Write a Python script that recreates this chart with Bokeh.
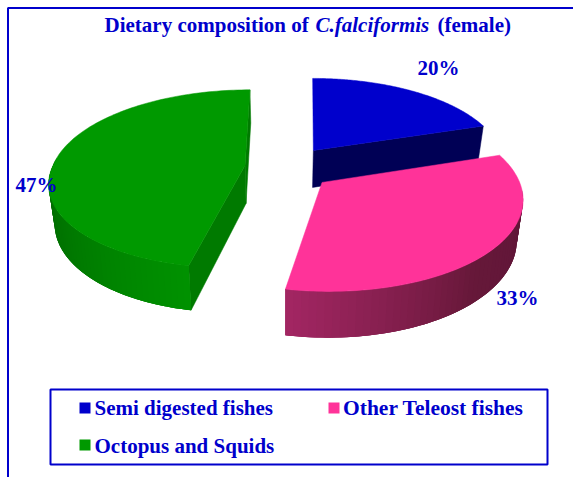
import numpy as np
from bokeh.plotting import figure
from bokeh.models import Range1d
from bokeh.core.properties import value
from bokeh.embed import file_html
from bokeh.resources import INLINE

# ---- data ----
categories = ["Semi digested fishes", "Other Teleost fishes", "Octopus and Squids"]
shares = [20, 33, 47]
labels = ["20%", "33%", "47%"]
colors = ["#0000cc", "#ff3399", "#009900"]

# ---- layout ----
W, H = 573, 477
BLUE = "#0000cc"
FONT = value("Liberation Serif")
X0, Y0, A, B, K, D, SHRINK = 282, 165, 192, 87, 0.15, 38, 0.974
centers = [(0.165, 0.178), (0.2, -0.189), (-0.195, 0.0)]
skew_far = [0.02, 0.0, 0.0]
skew_near = [0.0, 0.0, 0.035]
radial_wall = ["#000055", "#5e1538", "#007a00"]
wall_stops = [
    (("#000055", "#000055"),),
    ((0.0, "#5e1538"), (0.45, "#661839"), (1.0, "#a32663")),
    ((0.0, "#006200"), (0.5, "#007800"), (1.0, "#009200")),
]
TEXT_DY = -8

p = figure(width=W, height=H, output_backend="svg", toolbar_location=None,
           x_range=Range1d(0, W), y_range=Range1d(H, 0),
           min_border=0, outline_line_color=None, background_fill_color="white")
p.axis.visible = False
p.grid.visible = False


def proj(i, th, r=1.0, low=False):
    c = centers[i]
    cs = np.cos(th)
    u = c[0] + r * (np.sin(th) + skew_far[i] * np.maximum(cs, 0) + skew_near[i] * np.minimum(cs, 0))
    v = c[1] + r * cs
    f = 1 / (1 + K * v)
    sx = A * u * f
    sy = -B * v * f
    if low:
        return X0 + sx * SHRINK, Y0 + sy + D * f
    return X0 + sx, Y0 + sy


def mix(c1, c2, t):
    a = [int(c1[i:i + 2], 16) for i in (1, 3, 5)]
    b = [int(c2[i:i + 2], 16) for i in (1, 3, 5)]
    return "#%02x%02x%02x" % tuple(int(round(x + (y - x) * t)) for x, y in zip(a, b))


def shade(stops, t):
    for (t0, c0), (t1, c1) in zip(stops, stops[1:]):
        if t <= t1:
            return mix(c0, c1, (t - t0) / (t1 - t0))
    return stops[-1][1]


bounds = np.radians(np.cumsum([0] + shares) * 3.6)
order = [2, 0, 1]  # painter's order: green, blue, pink in front

for i in order:
    t0, t1 = bounds[i], bounds[i + 1]
    # radial walls
    for edge in (t0, t1):
        if (i == 2) or (i == 0 and edge == t1):
            ax0, ay0 = proj(i, 0, 0)
            ex0, ey0 = proj(i, edge)
            ax1, ay1 = proj(i, 0, 0, True)
            ex1, ey1 = proj(i, edge, 1, True)
            p.patch([ax0, ex0, ex1, ax1], [ay0, ey0, ey1, ay1],
                    fill_color=radial_wall[i], line_color=radial_wall[i], line_width=0.5)
    # outer curved wall, in overlapping strips
    if i != 0:
        if i == 1:
            vis0, vis1 = np.radians(95), t1
            edges = np.linspace(vis0, vis1, 50)
            pos = lambda th: (th - vis0) / (vis1 - vis0)
            stops = wall_stops[1]
        else:
            vis0, vis1 = t0, np.radians(275)
            edges = np.linspace(vis1, vis0, 50)
            pos = lambda th: 1 - (th - vis0) / (vis1 - vis0)
            stops = wall_stops[2]
        xs, ys, cols = [], [], []
        for j in range(len(edges) - 1):
            a, b = edges[j], edges[min(j + 3, len(edges) - 1)]
            arc = np.linspace(a, b, 5)
            x0, y0 = proj(i, arc)
            x1, y1 = proj(i, arc, 1, True)
            xs.append(np.r_[x0, x1[::-1]].tolist())
            ys.append(np.r_[y0, y1[::-1]].tolist())
            cols.append(shade(stops, pos((edges[j] + edges[j + 1]) / 2)))
        p.patches(xs, ys, fill_color=cols, line_color=None)
    # top face
    th = np.linspace(t0, t1, 120)
    px, py = proj(i, th)
    ax, ay = proj(i, 0, 0)
    p.patch(np.r_[ax, px].tolist(), np.r_[ay, py].tolist(),
            fill_color=colors[i], line_color=colors[i], line_width=0.5)

# outer frame (only top and left are visible in the reference)
p.line([7.5, 7.5, W], [H, 7.5, 7.5], line_color=BLUE, line_width=2)

# title
title_y = 32 + TEXT_DY
p.text([104], [title_y], text=["Dietary composition of "], text_font=FONT, text_font_style="bold",
       text_font_size="21px", text_color=BLUE, text_baseline="alphabetic")
p.text([315], [title_y], text=["C.falciformis"], text_font=FONT, text_font_style="bold italic",
       text_font_size="21px", text_color=BLUE, text_baseline="alphabetic")
p.text([437], [title_y], text=["(female)"], text_font=FONT, text_font_style="bold",
       text_font_size="21px", text_color=BLUE, text_baseline="alphabetic")

# slice labels
p.text([417, 496, 15], [75 + TEXT_DY, 305 + TEXT_DY, 192 + TEXT_DY], text=labels, text_font=FONT,
       text_font_style="bold", text_font_size="21px", text_color=BLUE, text_baseline="alphabetic")

# legend
p.quad(left=[50], right=[547], top=[389], bottom=[464], fill_color="white",
       line_color=BLUE, line_width=2)
p.quad(left=[79, 328, 79], right=[90, 339, 90], top=[402, 402, 439], bottom=[413, 413, 450],
       fill_color=colors, line_color=None)
for name, lx, ly, size in zip(categories, [94, 342.5, 94], [415, 415, 453], ["21px", "21.5px", "21px"]):
    p.text([lx], [ly + TEXT_DY], text=[name], text_font=FONT, text_font_style="bold",
           text_font_size=size, text_color=BLUE, text_baseline="alphabetic")

open("out.html", "w").write(file_html(p, INLINE))
